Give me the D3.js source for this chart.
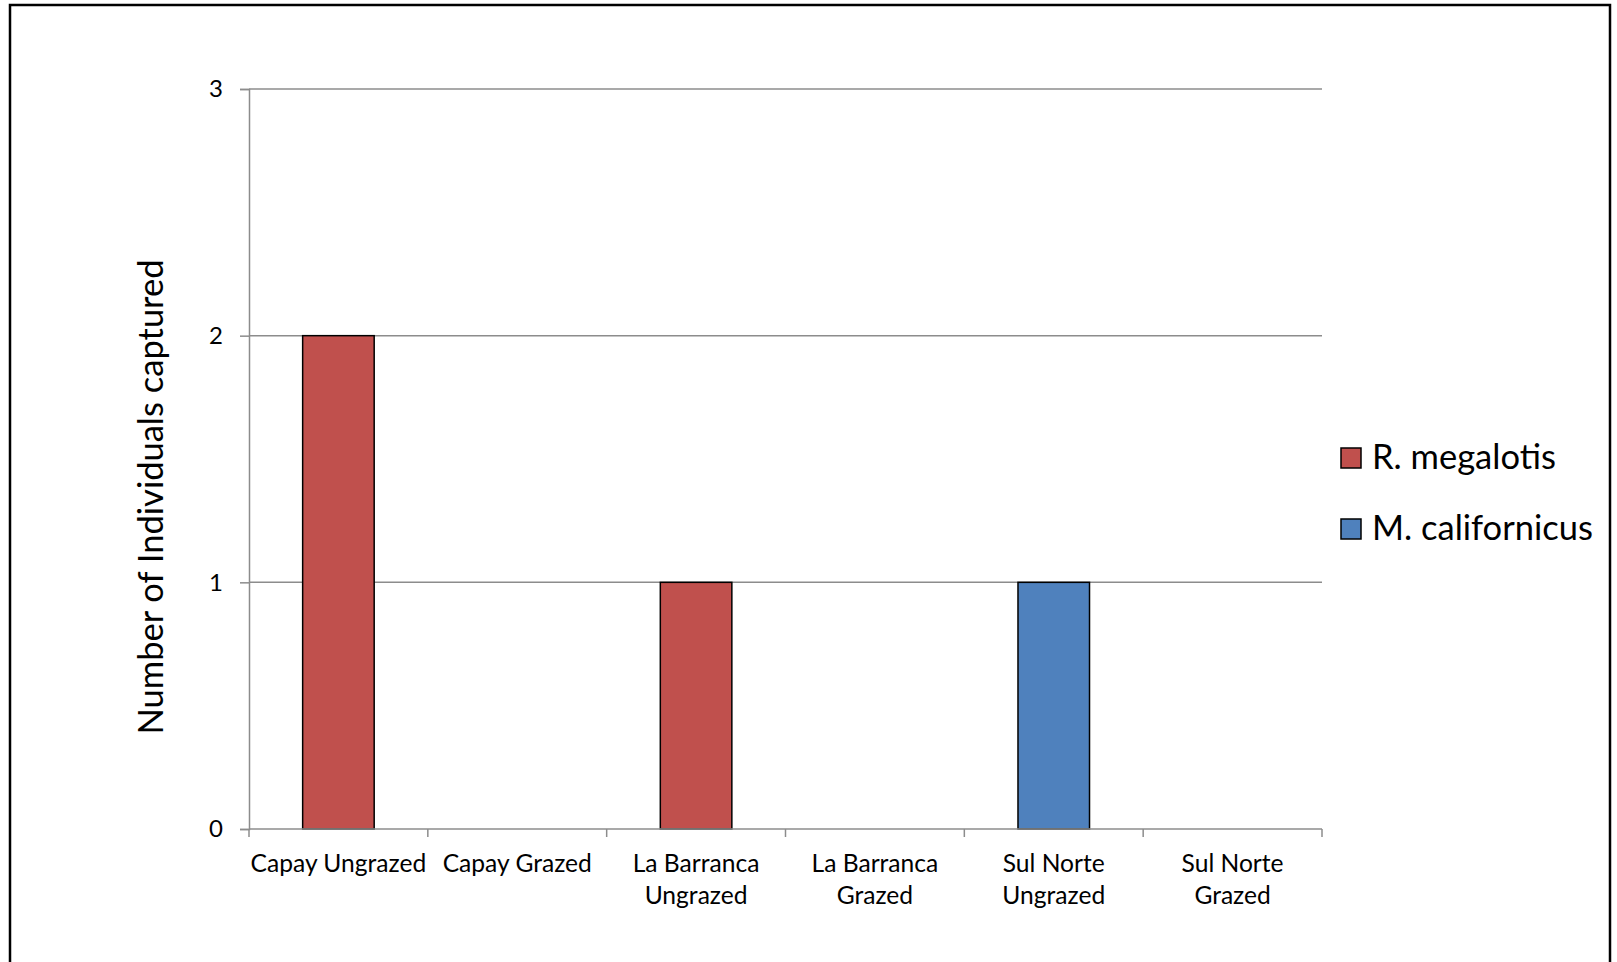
<!DOCTYPE html>
<html>
<head>
  <title>Individuals captured</title>
  <script src="https://cdnjs.cloudflare.com/ajax/libs/d3/7.8.5/d3.min.js"></script>
  <style>
    body { margin: 0; background: #fff; }
    text { font-family: Lato, "Open Sans", sans-serif; fill: #000; }
  </style>
</head>
<body>
  <svg width="1617" height="962"></svg>
  <script>
    // data
    const categories = ['Capay Ungrazed', 'Capay Grazed', 'La Barranca\nUngrazed',
      'La Barranca\nGrazed', 'Sul Norte\nUngrazed', 'Sul Norte\nGrazed'];
    const seriesNames = ['R. megalotis', 'M. californicus'];
    const megalotis = [2, 0, 1, 0, 0, 0];
    const californicus = [0, 0, 0, 0, 1, 0];
    const yTicks = [0, 1, 2, 3];
    const colors = ['#C0504D', '#4F81BD'];

    const svg = d3.select('svg');
    const margin = { top: 89, left: 249, right: 295, bottom: 133 };
    const width = 1617, height = 962;
    const innerW = width - margin.left - margin.right;
    const innerH = height - margin.top - margin.bottom;

    // chart frame
    svg.append('rect')
      .attr('x', 10).attr('y', 5)
      .attr('width', 1600).attr('height', 990)
      .attr('fill', 'none').attr('stroke', '#000').attr('stroke-width', 2.5);

    const g = svg.append('g').attr('transform', `translate(${margin.left},${margin.top})`);

    const x = d3.scaleBand().domain(categories).range([0, innerW]).paddingInner(0.6).paddingOuter(0.3);
    const y = d3.scaleLinear().domain([0, 3]).range([innerH, 0]);

    // gridlines
    g.append('g')
      .selectAll('line')
      .data(yTicks.filter(d => d > 0))
      .join('line')
      .attr('x1', 0).attr('x2', innerW)
      .attr('y1', d => y(d)).attr('y2', d => y(d))
      .attr('stroke', '#8c8c8c').attr('stroke-width', 1.5);

    // stacked bars
    const rows = categories.map((c, i) => ({ cat: c, megalotis: megalotis[i], californicus: californicus[i] }));
    const stack = d3.stack().keys(['megalotis', 'californicus'])(rows);

    g.append('g')
      .selectAll('g')
      .data(stack)
      .join('g')
      .attr('fill', (d, i) => colors[i])
      .selectAll('rect')
      .data(d => d.filter(v => v[1] - v[0] > 0))
      .join('rect')
      .attr('x', d => x(d.data.cat))
      .attr('width', x.bandwidth())
      .attr('y', d => y(d[1]))
      .attr('height', d => y(d[0]) - y(d[1]))
      .attr('stroke', '#000').attr('stroke-width', 1.5);

    // y axis
    const yAxis = g.append('g')
      .call(d3.axisLeft(y).tickValues(yTicks).tickSize(9).tickPadding(17).tickFormat(d3.format('d')));
    yAxis.select('.domain').attr('stroke', '#8c8c8c').attr('stroke-width', 1.5);
    yAxis.selectAll('.tick line').attr('stroke', '#8c8c8c').attr('stroke-width', 1.5);
    yAxis.selectAll('.tick text').style('font-size', '24px').style('font-family', 'Lato');

    // x axis: ticks on category boundaries
    const step = innerW / categories.length;
    const xAxis = g.append('g').attr('transform', `translate(0,${innerH})`);
    xAxis.append('line')
      .attr('x1', 0).attr('x2', innerW)
      .attr('stroke', '#8c8c8c').attr('stroke-width', 1.5);
    xAxis.selectAll('line.tk')
      .data(d3.range(categories.length + 1))
      .join('line')
      .attr('class', 'tk')
      .attr('x1', i => i * step).attr('x2', i => i * step)
      .attr('y1', 0).attr('y2', 8)
      .attr('stroke', '#8c8c8c').attr('stroke-width', 1.5);

    xAxis.selectAll('text.lbl')
      .data(categories)
      .join('text')
      .attr('class', 'lbl')
      .attr('text-anchor', 'middle')
      .attr('x', d => x(d) + x.bandwidth() / 2)
      .attr('y', 43)
      .style('font-size', '24.6px')
      .each(function (d) {
        d3.select(this).selectAll('tspan')
          .data(d.split('\n'))
          .join('tspan')
          .attr('x', x(d) + x.bandwidth() / 2)
          .attr('dy', (t, i) => i === 0 ? 0 : 31.5)
          .text(t => t);
      });

    // y axis title
    svg.append('text')
      .attr('transform', 'translate(163,497) rotate(-90)')
      .attr('text-anchor', 'middle')
      .style('font-size', '34.5px')
      .text('Number of Individuals captured');

    // legend
    const legend = svg.append('g').attr('transform', 'translate(1341,448)');
    const item = legend.selectAll('g')
      .data(seriesNames)
      .join('g')
      .attr('transform', (d, i) => `translate(0,${i * 71})`);
    item.append('rect')
      .attr('width', 20).attr('height', 20)
      .attr('fill', (d, i) => colors[i])
      .attr('stroke', '#000').attr('stroke-width', 1.5);
    item.append('text')
      .attr('x', 31).attr('y', 21)
      .style('font-size', '34.5px')
      .text(d => d);
  </script>
</body>
</html>
